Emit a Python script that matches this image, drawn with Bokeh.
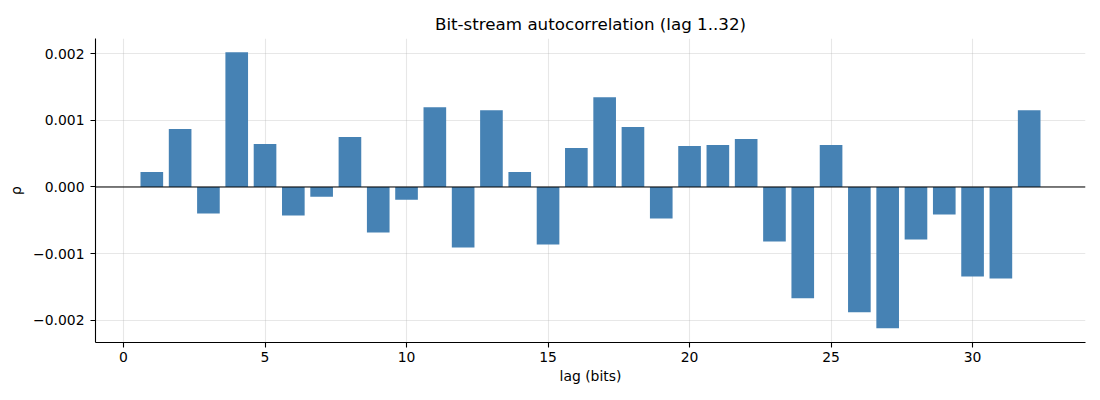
from bokeh.plotting import figure
from bokeh.models import Range1d, FixedTicker, CustomJSTickFormatter, Span, ColumnDataSource
from bokeh.embed import file_html
from bokeh.resources import INLINE

lags = list(range(1, 33))
rho = [0.000224, 0.000868, -0.000399, 0.00202, 0.000643, -0.000429, -0.000145, 0.000748,
       -0.000683, -0.00019, 0.001197, -0.000908, 0.001152, 0.000224, -0.000863, 0.000584,
       0.001347, 0.000898, -0.000474, 0.000613, 0.000628, 0.000718, -0.000818, -0.001671,
       0.000628, -0.00188, -0.00212, -0.000788, -0.000414, -0.001342, -0.001372, 0.001152]
x_ticks = [0, 5, 10, 15, 20, 25, 30]
y_ticks = [-0.002, -0.001, 0.0, 0.001, 0.002]

src = ColumnDataSource(dict(lag=lags, rho=rho))

FONT = "DejaVu Sans"
p = figure(width=1100, height=400, output_backend="svg", toolbar_location=None,
           x_range=Range1d(-0.99, 33.99), y_range=Range1d(-0.002333, 0.002227),
           title="Bit-stream autocorrelation (lag 1..32)",
           min_border_left=95, min_border_right=15, min_border_top=38, min_border_bottom=58)

p.title.align = "center"
p.title.text_font = FONT
p.title.text_font_size = "16.7px"
p.title.text_font_style = "normal"
p.title.text_color = "black"

p.vbar(x="lag", top="rho", bottom=0, width=0.8, source=src,
       fill_color="#4682B4", line_color=None)

p.add_layout(Span(location=0, dimension="width", line_color="black", line_width=1.1))

p.outline_line_color = None
p.background_fill_color = "white"
p.border_fill_color = "white"

p.xaxis.ticker = FixedTicker(ticks=x_ticks)
p.yaxis.ticker = FixedTicker(ticks=y_ticks)
p.yaxis.formatter = CustomJSTickFormatter(code="""
    var s = Math.abs(tick).toFixed(3);
    return (tick < -1e-12 ? "\u2212" : "") + s;
""")

for ax in (p.xaxis, p.yaxis):
    ax.axis_line_color = "black"
    ax.axis_line_width = 1.1
    ax.major_tick_line_color = "black"
    ax.major_tick_line_width = 1.1
    ax.major_tick_out = 5
    ax.major_tick_in = 0
    ax.minor_tick_line_color = None
    ax.major_label_text_font = FONT
    ax.major_label_text_font_size = "13.9px"
    ax.major_label_text_color = "black"
    ax.axis_label_text_font = FONT
    ax.axis_label_text_font_size = "13.9px"
    ax.axis_label_text_font_style = "normal"
    ax.axis_label_text_color = "black"

p.xaxis.axis_label = "lag (bits)"
p.yaxis.axis_label = "ρ"
p.xaxis.major_label_standoff = 4
p.yaxis.major_label_standoff = 6
p.xaxis.axis_label_standoff = 3
p.yaxis.axis_label_standoff = 6

for g in (p.xgrid, p.ygrid):
    g.grid_line_color = "#b0b0b0"
    g.grid_line_alpha = 0.3
    g.grid_line_width = 1.1

open("out.html", "w").write(file_html(p, INLINE))
